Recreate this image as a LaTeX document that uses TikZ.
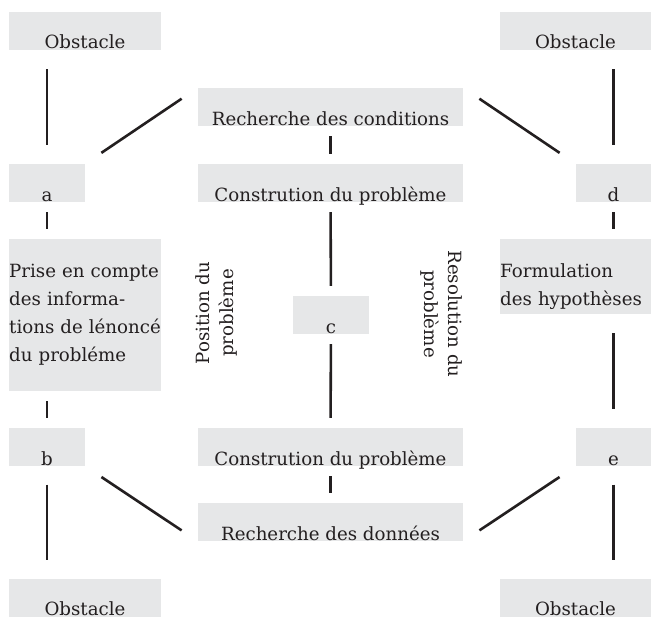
\documentclass[tikz,border=0pt]{standalone}
\usepackage{fontspec}
\setmainfont{DejaVu Serif}
\definecolor{boxgray}{HTML}{E6E7E8}
\definecolor{inkline}{HTML}{231F20}

\begin{document}
\begin{tikzpicture}[x=1pt,y=1pt,yscale=-1,xscale=1,
	greybox/.style={fill=boxgray,inner sep=0pt,minimum height=38pt,text height=37pt,text depth=1pt,font=\fontsize{18.2}{28}\selectfont,text=inkline},
	tallbox/.style={fill=boxgray,inner sep=0pt,text width=#1,align=left,text height=38pt,font=\fontsize{18.2}{28}\selectfont,text=inkline},
	link/.style={draw=inkline,line width=2.6pt,shorten <=#1,shorten >=#1},
	sidelabel/.style={align=center,inner sep=0pt,font=\fontsize{18.2}{24}\selectfont,text=inkline}]
	\useasboundingbox (0,0) rectangle (651,618);
	\node[greybox,minimum width=152pt] (obsTL) at (85,31) {Obstacle};
	\node[greybox,minimum width=151pt] (obsTR) at (575.5,31) {Obstacle};
	\node[greybox,minimum width=76pt] (a) at (47,183) {a};
	\node[greybox,minimum width=75pt] (d) at (613.5,183) {d};
	\node[greybox,minimum width=265pt] (cond) at (330.5,107) {Recherche des conditions};
	\node[greybox,minimum width=265pt] (constTop) at (330.5,183) {Constrution du problème};
	\node[greybox,minimum width=76pt] (c) at (331,315) {c};
	\node[greybox,minimum width=265pt] (constBot) at (330.5,447) {Constrution du problème};
	\node[greybox,minimum width=265pt] (data) at (330.5,522) {Recherche des données};
	\node[greybox,minimum width=76pt] (b) at (47,447) {b};
	\node[greybox,minimum width=75pt] (e) at (613.5,447) {e};
	\node[greybox,minimum width=152pt] (obsBL) at (85,597.5) {Obstacle};
	\node[greybox,minimum width=151pt] (obsBR) at (575.5,597.5) {Obstacle};
	\node[tallbox=152pt,text depth=114pt,anchor=north west] (prise) at (9,239) {Prise en compte\\des informa-\\tions de lénoncé\\du probléme};
	\node[tallbox=151pt,text depth=37pt,anchor=north west] (hyp) at (500,239) {Formulation\\des hypothèses};
	\node[sidelabel,rotate=90] (pos) at (216,313) {Position du\\problème};
	\node[sidelabel,rotate=-90] (res) at (442,314) {Resolution du\\problème};
	\draw[link=19] (a.north |- obsTL.south) -- (a.north);
	\draw[link=10] (a.south) -- (a.south |- prise.north);
	\draw[link=10] (b.north |- prise.south) -- (b.north);
	\draw[link=18.5] (b.south) -- (b.south |- obsBL.north);
	\draw[link=10] (cond.south) -- (constTop.north);
	\draw[link=10] (constTop.south) -- (c.north);
	\draw[link=10] (c.south) -- (constBot.north);
	\draw[link=10] (constBot.south) -- (data.north);
	\draw[link=19] (d.north |- obsTR.south) -- (d.north);
	\draw[link=10] (d.south) -- (d.south |- hyp.north);
	\draw[link=19] (e.north |- hyp.south) -- (e.north);
	\draw[link=18.5] (e.south) -- (e.south |- obsBR.north);
	\draw[link=19.5] (a.north east) -- (cond.north west);
	\draw[link=19.5] (cond.north east) -- (d.north west);
	\draw[link=19.5] (b.south east) -- (data.south west);
	\draw[link=19.5] (data.south east) -- (e.south west);
\end{tikzpicture}
\end{document}
